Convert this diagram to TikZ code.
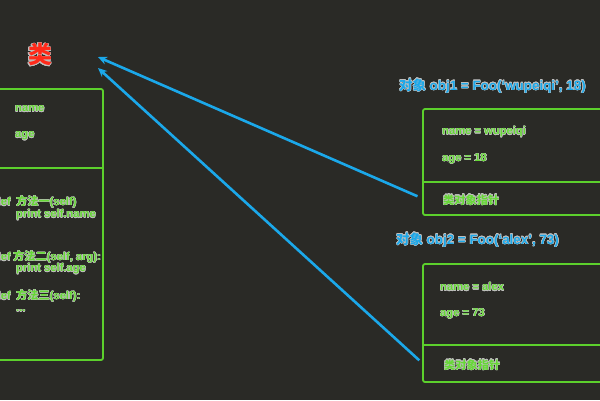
\documentclass[tikz,border=0pt]{standalone}
\usepackage{fontspec}
\setmainfont{Liberation Sans}
\newfontfamily\cjk{Noto Sans CJK SC}
\usepackage[copies]{contour}
\usetikzlibrary{positioning}
\usetikzlibrary{arrows.meta}
\definecolor{bgdark}{HTML}{2A2A26}
\definecolor{boxgreen}{HTML}{5CD02C}
\definecolor{textgreen}{HTML}{66D836}
\definecolor{objblue}{HTML}{1BA8EA}
\definecolor{clsred}{HTML}{FF2A1A}
\contourlength{0.4pt}
\newcommand{\zh}[1]{{\cjk\bfseries #1}}
\newcommand{\hl}[1]{\contour{white!70!bgdark}{#1}}

\begin{document}
\begin{tikzpicture}[x=1pt,y=-1pt,
box/.style={draw=boxgreen,line width=1.8pt,rounded corners=2pt},
field/.style={text=textgreen,font=\bfseries\fontsize{11.2}{13}\selectfont,anchor=west,inner sep=0pt},
title/.style={text=objblue,font=\bfseries\fontsize{13.4}{15}\selectfont,anchor=west,inner sep=0pt},
ptr/.style={draw=objblue,line width=2.6pt,-{Stealth[length=9pt,width=8pt]}}]
\fill[bgdark] (0,0) rectangle (600,400);
\useasboundingbox (0,0) rectangle (600,400);
\clip (0,0) rectangle (600,400);

\node[text=clsred,font=\fontsize{24}{26}\selectfont,inner sep=0pt] (cls) at (40,55) {\hl{\zh{类}}};
\coordinate (tip1) at (98,57);
\coordinate (tip2) at (98,68);

\draw[box] (-20,89) rectangle (103,360);
\draw[box] (-20,168) -- (103,168);
\node[field] (name) at (15,109) {\hl{name}};
\node[field] (age) at (15,136) {\hl{age}};
\node[field,anchor=east] (def1) at (11,202) {\hl{def}};
\node[field] (m1) at (16,202) {\hl{\zh{方法一}(self)}};
\node[field] (p1) at (16,215) {\hl{print self.name}};
\node[field,anchor=east] (def2) at (11,257) {\hl{def}};
\node[field] (m2) at (13,257) {\hl{\zh{方法二}(self, arg):}};
\node[field] (p2) at (16,269) {\hl{print self.age}};
\node[field,anchor=east] (def3) at (11,296) {\hl{def}};
\node[field] (m3) at (16,296) {\hl{\zh{方法三}(self):}};
\node[field] (p3) at (16,311) {\hl{...}};

\node[title] (t1) at (399,86) {\hl{\zh{对象} obj1 = Foo(‘wupeiqi’, 18)}};
\draw[box] (423,109) rectangle (640,215);
\node[anchor=north west,minimum width=217pt,minimum height=33pt] (ptr1) at (423,182) {};
\draw[box] (423,182) -- (640,182);
\node[field] (n1) at (442,132) {\hl{name = wupeiqi}};
\node[field] (a1) at (442,159) {\hl{age = 18}};
\node[field] (k1) at (443,200) {\hl{\zh{类对象指针}}};

\node[title] (t2) at (396,240) {\hl{\zh{对象} obj2 = Foo(‘alex’, 73)}};
\draw[box] (423,264) rectangle (640,382);
\node[anchor=north west,minimum width=217pt,minimum height=37pt] (ptr2) at (423,345) {};
\draw[box] (423,345) -- (640,345);
\node[field] (n2) at (440,287) {\hl{name = alex}};
\node[field] (a2) at (440,314) {\hl{age = 73}};
\node[field] (k2) at (444,365) {\hl{\zh{类对象指针}}};

\draw[ptr,shorten <=6pt] (ptr1.west) -- (tip1);
\draw[ptr,shorten <=5pt] (ptr2.west) -- (tip2);
\end{tikzpicture}
\end{document}
